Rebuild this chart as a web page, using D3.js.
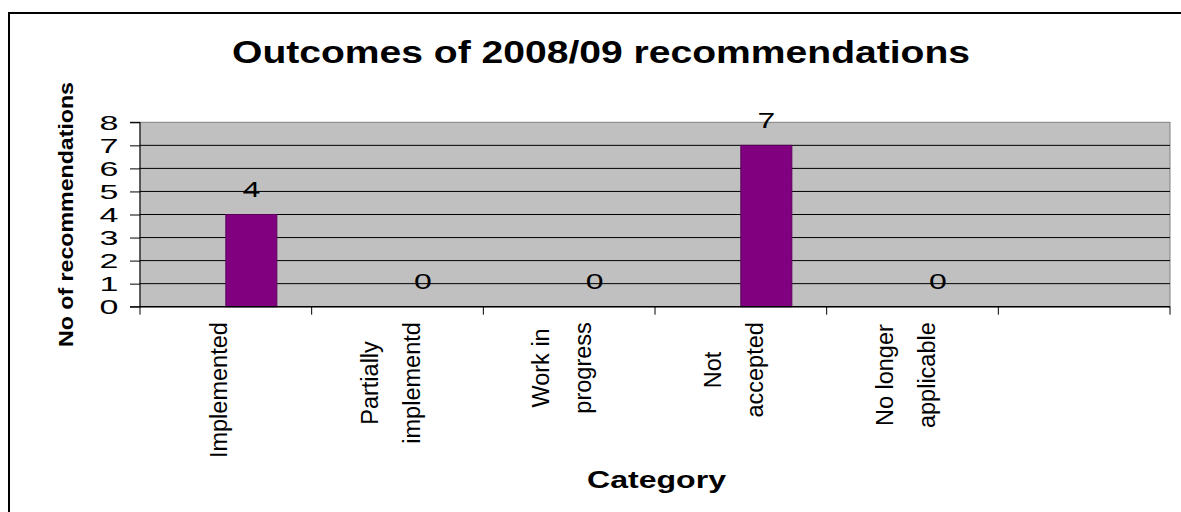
<!DOCTYPE html>
<html>
<head>
<meta charset="utf-8">
<script src="https://cdn.jsdelivr.net/npm/d3@7"></script>
<style>
  html, body { margin: 0; padding: 0; background: #ffffff; }
  svg { display: block; font-family: "Liberation Sans", Arial, sans-serif; }
</style>
</head>
<body>
<svg id="chart" width="1181" height="512"></svg>
<script>
// Outcome categories (the sixth slot on the axis is left empty)
const categories = ["Implemented", "Partially implementd", "Work in progress", "Not accepted", "No longer applicable", ""];
const categoryLines = [["Implemented"], ["Partially", "implementd"], ["Work in", "progress"], ["Not", "accepted"], ["No longer", "applicable"], []];
const values = [4, 0, 0, 7, 0, null];
const yTicks = [0, 1, 2, 3, 4, 5, 6, 7, 8];
const titleText = "Outcomes of 2008/09 recommendations";
const yTitle = "No of recommendations";
const xTitle = "Category";

const svg = d3.select("#chart");
const W = 1181, H = 512;
const plot = { left: 140, right: 1170, top: 122.3, bottom: 306.7 };

// Outer chart frame
svg.append("rect")
  .attr("x", 9).attr("y", 13).attr("width", W + 20).attr("height", H + 20)
  .attr("fill", "#ffffff").attr("stroke", "#000").attr("stroke-width", 2);

const x = d3.scaleBand().domain(categories).range([plot.left, plot.right]).paddingInner(0).paddingOuter(0);
// Each category holds two series positions; only the second one carries data
const xInner = d3.scaleBand().domain(["s0", "s1"]).range([0, x.bandwidth()]).paddingInner(0).paddingOuter(0.683);
const y = d3.scaleLinear().domain([0, 8]).range([plot.bottom, plot.top]);

// Plot area
svg.append("rect")
  .attr("x", plot.left).attr("y", plot.top)
  .attr("width", plot.right - plot.left).attr("height", plot.bottom - plot.top)
  .attr("fill", "#c0c0c0").attr("stroke", "#808080").attr("stroke-width", 1);

// Horizontal gridlines
svg.append("g").selectAll("line")
  .data(yTicks.filter(t => t > 0 && t < 8))
  .join("line")
  .attr("x1", plot.left).attr("x2", plot.right)
  .attr("y1", d => y(d)).attr("y2", d => y(d))
  .attr("stroke", "#000").attr("stroke-width", 1);

// Bars
svg.append("g").selectAll("rect")
  .data(categories.map((c, i) => ({ c, v: values[i] })).filter(d => d.v != null && d.v > 0))
  .join("rect")
  .attr("x", d => x(d.c) + xInner("s1"))
  .attr("y", d => y(d.v))
  .attr("width", xInner.bandwidth())
  .attr("height", d => y(0) - y(d.v))
  .attr("fill", "#800080")
  .attr("stroke", "#5c005c").attr("stroke-width", 1);

// Value labels
svg.append("g").selectAll("text")
  .data(categories.map((c, i) => ({ c, v: values[i] })).filter(d => d.v != null))
  .join("text")
  .attr("transform", d => `translate(${x(d.c) + xInner("s1") + xInner.bandwidth() / 2},${y(d.v) - 17.5}) scale(1.42,1)`)
  .attr("text-anchor", "middle")
  .attr("font-size", 22.5)
  .attr("fill", "#000")
  .text(d => d.v);

// Y axis
const yAxis = d3.axisLeft(y).tickValues(yTicks).tickSize(10).tickPadding(0).tickFormat(d3.format("d"));
const gy = svg.append("g").attr("transform", `translate(${plot.left},0)`).call(yAxis);
gy.select(".domain").attr("stroke", "#000").attr("d", `M-10,${plot.top}H0V${plot.bottom}H-10`);
gy.selectAll(".tick line").attr("stroke", "#000");
gy.selectAll(".tick text")
  .attr("x", null).attr("dy", null)
  .attr("font-family", "'Liberation Sans', Arial, sans-serif")
  .attr("font-size", 20)
  .attr("fill", "#000")
  .attr("text-anchor", "end")
  .attr("transform", "translate(-21.5,7) scale(1.7,1)");

// X axis
const xAxis = d3.axisBottom(x).tickSize(0).tickFormat("");
const gx = svg.append("g").attr("transform", `translate(0,${plot.bottom})`).call(xAxis);
gx.select(".domain").attr("stroke", "#000").attr("stroke-width", 1.5).attr("d", `M${plot.left},0H${plot.right}`);
gx.selectAll(".tick").remove();
const boundaries = categories.map(c => x(c)).concat([plot.right]);
gx.selectAll("line.sep")
  .data(boundaries)
  .join("line")
  .attr("class", "sep")
  .attr("x1", d => d).attr("x2", d => d)
  .attr("y1", 0).attr("y2", 8)
  .attr("stroke", "#000");

// Category labels, rotated and split on two lines where needed
const labelTop = plot.bottom + 15.5;
const lineGap = 42;
categories.forEach((c, i) => {
  const lines = categoryLines[i];
  if (!lines.length) return;
  const cx = x(c) + x.bandwidth() / 2;
  const g = svg.append("g");
  const texts = lines.map((ln, j) => g.append("text")
    .attr("font-size", 23.5)
    .attr("fill", "#000")
    .attr("text-anchor", "middle")
    .text(ln));
  const maxLen = d3.max(texts, t => t.node().getComputedTextLength());
  const cy = labelTop + maxLen / 2;
  texts.forEach((t, j) => {
    const bx = cx + 1 + (j - (lines.length - 1) / 2) * lineGap;
    t.attr("transform", `translate(${bx},${cy}) rotate(-90)`);
  });
});

// Titles
svg.append("text")
  .attr("x", 601).attr("y", 63)
  .attr("text-anchor", "middle")
  .attr("font-size", 32).attr("font-weight", "bold")
  .attr("textLength", 738).attr("lengthAdjust", "spacingAndGlyphs")
  .text(titleText);

svg.append("text")
  .attr("x", 656.5).attr("y", 488.3)
  .attr("text-anchor", "middle")
  .attr("font-size", 23).attr("font-weight", "bold")
  .attr("textLength", 139).attr("lengthAdjust", "spacingAndGlyphs")
  .text(xTitle);

svg.append("text")
  .attr("transform", `translate(73,${(plot.top + plot.bottom) / 2}) rotate(-90)`)
  .attr("text-anchor", "middle")
  .attr("font-size", 21).attr("font-weight", "bold")
  .attr("textLength", 265).attr("lengthAdjust", "spacingAndGlyphs")
  .text(yTitle);
</script>
</body>
</html>
